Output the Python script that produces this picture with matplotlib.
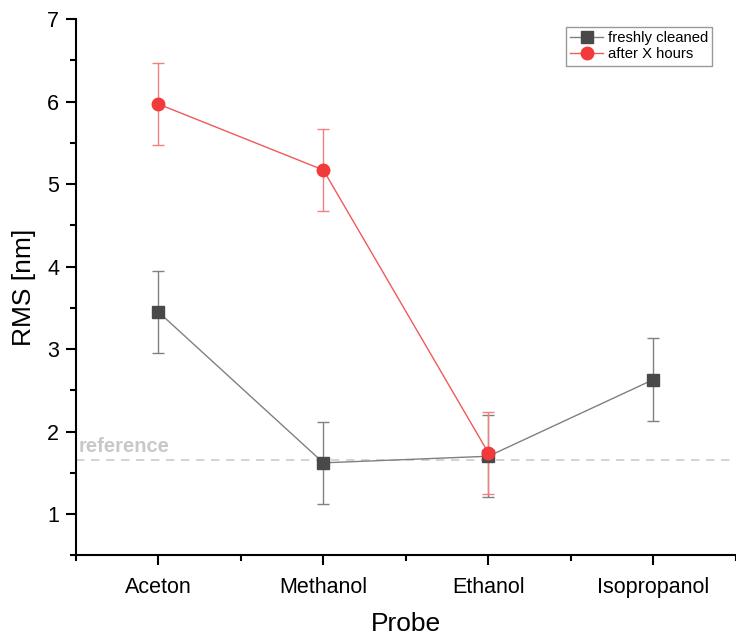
import matplotlib.pyplot as plt
from matplotlib.ticker import MultipleLocator, FixedLocator

plt.rcParams['font.family'] = ['Liberation Sans', 'DejaVu Sans']

probes = ['Aceton', 'Methanol', 'Ethanol', 'Isopropanol']
fresh = [3.45, 1.62, 1.70, 2.63]
fresh_err = [0.5, 0.5, 0.5, 0.5]
after = [5.97, 5.17, 1.74]
after_err = [0.5, 0.5, 0.5]
reference = 1.65

x = list(range(1, len(probes) + 1))

fig = plt.figure(figsize=(7.36, 6.36), dpi=100)
ax = fig.add_axes([0.103, 0.127, 0.897, 0.843])

ax.axhline(reference, color='#cccccc', ls=(0, (5, 4)), lw=1.2, zorder=1)
ax.text(0.52, reference + 0.05, 'reference', color='#c8c8c8', fontsize=14.5,
        fontweight='bold', ha='left', va='bottom')

# error bars first, then lines with markers (these go in the legend)
ax.errorbar(x, fresh, yerr=fresh_err, fmt='none', ecolor='#808080', elinewidth=1,
            capsize=4, capthick=1, zorder=2)
ax.errorbar(x[:3], after, yerr=after_err, fmt='none', ecolor='#f28080', elinewidth=1,
            capsize=4, capthick=1, zorder=2)
ax.plot(x, fresh, color='#808080', lw=1, marker='s', ms=8,
        mfc='#494949', mec='#494949', label='freshly cleaned', zorder=3)
ax.plot(x[:3], after, color='#f05a5a', lw=1, marker='o', ms=9,
        mfc='#f23a3a', mec='#f23a3a', label='after X hours', zorder=4)

ax.set_xlim(0.5, 4.5)
ax.set_ylim(0.5, 7)
ax.set_xticks(x)
ax.set_xticklabels(probes)
ax.xaxis.set_minor_locator(FixedLocator([0.5, 1.5, 2.5, 3.5, 4.5]))
ax.set_yticks([1, 2, 3, 4, 5, 6, 7])
ax.yaxis.set_minor_locator(MultipleLocator(0.5))

ax.spines['top'].set_visible(False)
ax.spines['right'].set_visible(False)
for s in ('left', 'bottom'):
    ax.spines[s].set_linewidth(1.5)
ax.tick_params(which='major', direction='out', length=7, width=1.5, labelsize=15.5, pad=5)
ax.tick_params(which='minor', direction='out', length=4, width=1.5)
ax.tick_params(axis='x', pad=9)

ax.set_xlabel('Probe', fontsize=19, labelpad=10)
ax.set_ylabel('RMS [nm]', fontsize=19, labelpad=8)

leg = ax.legend(loc='upper right', bbox_to_anchor=(0.964, 0.986), fontsize=10.7,
                frameon=True, fancybox=False, edgecolor='#808080',
                handlelength=2.2, borderpad=0.3, labelspacing=0.15, handletextpad=0.3,
                borderaxespad=0)
leg.get_frame().set_linewidth(1)

fig.savefig('out.png', dpi=100)
